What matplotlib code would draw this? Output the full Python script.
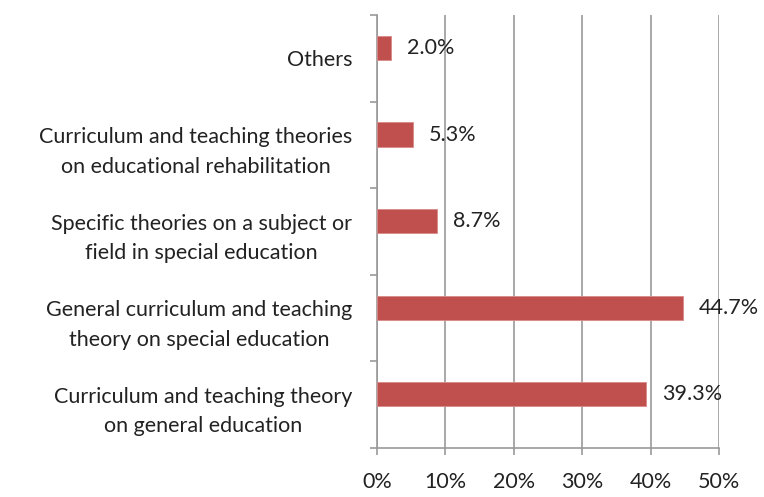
import matplotlib.pyplot as plt
from matplotlib.ticker import FixedLocator, PercentFormatter

# data, bottom to top as drawn
categories = [
    "Curriculum and teaching theory\non general education",
    "General curriculum and teaching\ntheory on special education",
    "Specific theories on a subject or\nfield in special education",
    "Curriculum and teaching theories\non educational rehabilitation",
    "Others",
]
shares = [39.3, 44.7, 8.7, 5.3, 2.0]
x_ticks = [0, 10, 20, 30, 40, 50]

plt.rcParams['font.family'] = ['Lato', 'DejaVu Sans']

fig = plt.figure(figsize=(7.64, 4.97), dpi=100)
ax = fig.add_axes([0.4935, 0.0986, 0.4476, 0.8712])

# bars sit a little above the middle of their band, as in the original
pos = list(range(len(categories)))
bar_pos = [p + 0.12 for p in pos]
ax.barh(bar_pos, shares, height=0.28, color='#C0504D', edgecolor='#D88A88', linewidth=0.6, zorder=3)

# value labels to the right of each bar
for y, v in zip(bar_pos, shares):
    ax.annotate(f"{v:.1f}%", (v, y), xytext=(11.5, 0), textcoords='offset points',
                va='center', ha='left', fontsize=15.5, color='#222222', zorder=4)

ax.set_xlim(0, 50)
ax.set_ylim(-0.5, len(categories) - 0.5)

ax.set_xticks(x_ticks)
ax.xaxis.set_major_formatter(PercentFormatter(decimals=0))
ax.grid(axis='x', color='#999999', linewidth=1.2, zorder=0)

# ticks on the category boundaries, labels in the middle
ax.yaxis.set_major_locator(FixedLocator([i - 0.5 for i in range(len(categories) + 1)]))
ax.yaxis.set_major_formatter(plt.NullFormatter())
ax.yaxis.set_minor_locator(FixedLocator(pos))
ax.set_yticklabels(categories, minor=True, multialignment='center', linespacing=1.6)

ax.tick_params(axis='y', which='major', length=5, width=1.2, color='#999999')
ax.tick_params(axis='y', which='minor', length=0, pad=18, labelsize=15.5, labelcolor='#222222')
ax.tick_params(axis='x', length=5, width=1.2, color='#999999', pad=12, labelsize=15.5, labelcolor='#222222')

for side in ['top', 'right']:
    ax.spines[side].set_visible(False)
for side in ['left', 'bottom']:
    ax.spines[side].set_color('#999999')
    ax.spines[side].set_linewidth(1.2)

plt.savefig("out.png", dpi=100)
